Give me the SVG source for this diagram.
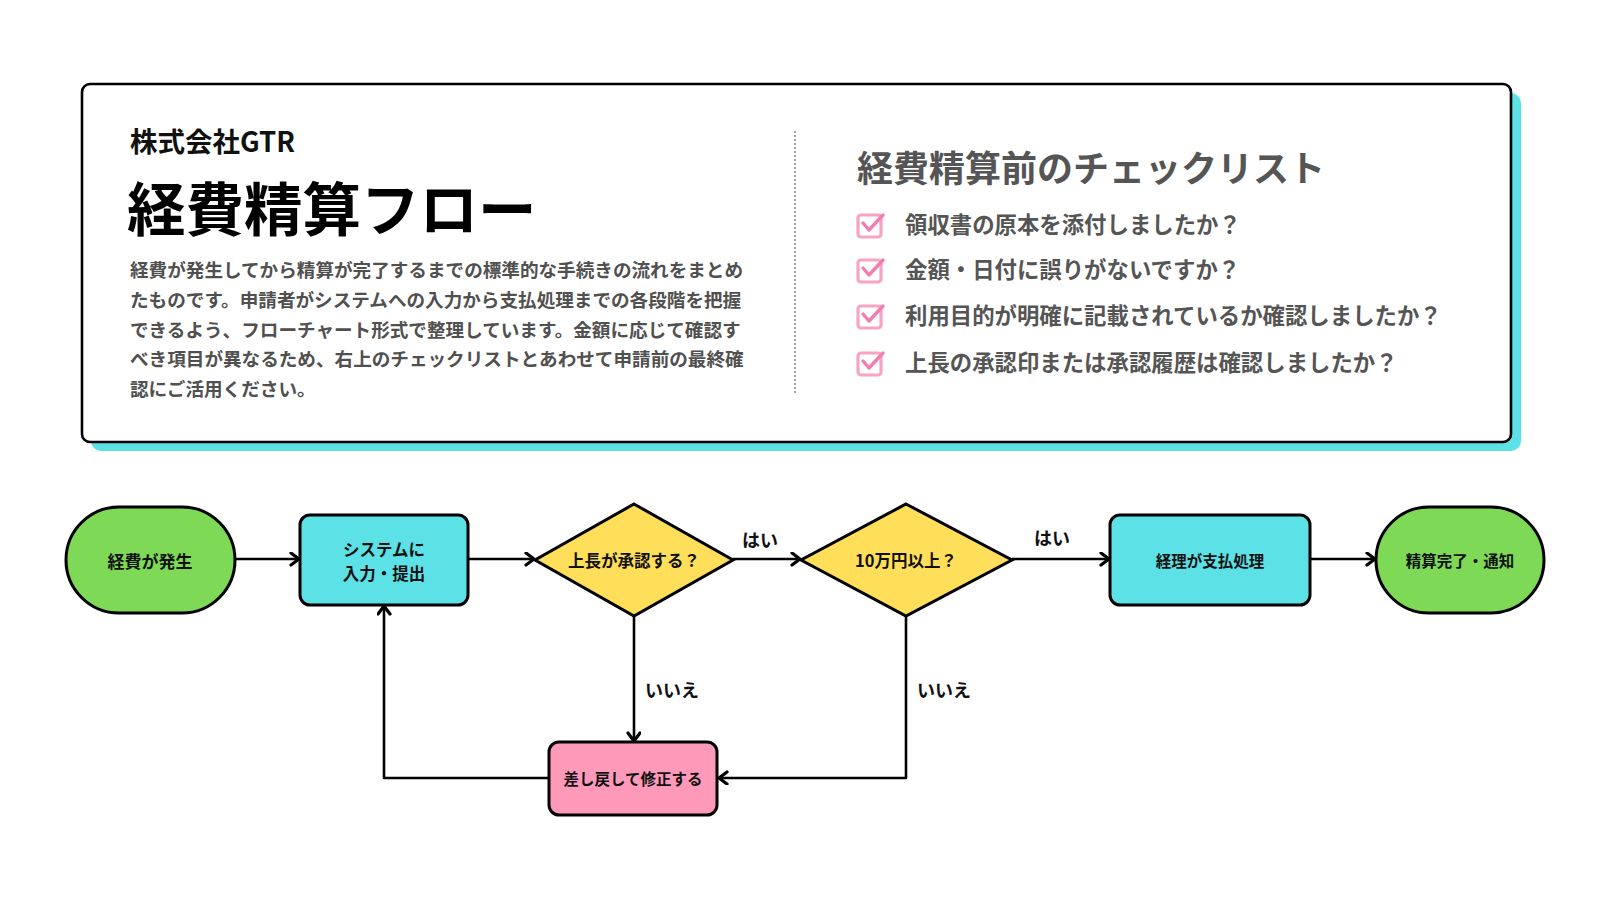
<svg xmlns="http://www.w3.org/2000/svg" width="1600" height="900" viewBox="0 0 1600 900">
<defs>
<style>
.jp{font-family:"Noto Sans CJK JP","Noto Sans",sans-serif;font-weight:700}
.node{stroke:#000;stroke-width:3}
.nt{font-family:"Noto Sans CJK JP","Noto Sans",sans-serif;font-weight:700;font-size:16.5px;fill:#111;text-anchor:middle;dominant-baseline:central}
.lbl{font-family:"Noto Sans CJK JP","Noto Sans",sans-serif;font-weight:700;font-size:18px;fill:#111;text-anchor:middle;dominant-baseline:central}
.conn{fill:none;stroke:#000;stroke-width:2.6;stroke-linejoin:round}
.para{font-size:18.6px;fill:#505050}
.item{font-size:22.4px;fill:#555}
.cb{fill:none;stroke:#F7A3C4;stroke-width:3.2}
.ck{fill:none;stroke:#F07FAF;stroke-width:3.4;stroke-linecap:round;stroke-linejoin:round}
</style>
<marker id="arr" markerUnits="userSpaceOnUse" markerWidth="14" markerHeight="16" refX="11" refY="7" orient="auto">
<path d="M3,1 L11,7 L3,13" fill="none" stroke="#000" stroke-width="3.2" stroke-linecap="round" stroke-linejoin="round"/>
</marker>
</defs>
<rect width="1600" height="900" fill="#fff"/>

<g id="header">
<rect x="91" y="93" width="1430" height="358" rx="10" fill="#5CE1E6"/>
<rect x="82" y="84" width="1429" height="358" rx="8" fill="#fff" stroke="#000" stroke-width="2.6"/>
<text class="jp" x="130" y="152" font-size="27.5" fill="#111">株式会社GTR</text>
<text class="jp" x="127" y="231" font-size="58.5" fill="#000">経費精算フロー</text>
<g class="jp para">
<text x="130" y="277">経費が発生してから精算が完了するまでの標準的な手続きの流れをまとめ</text>
<text x="130" y="307">たものです。申請者がシステムへの入力から支払処理までの各段階を把握</text>
<text x="130" y="337">できるよう、フローチャート形式で整理しています。金額に応じて確認す</text>
<text x="130" y="366">べき項目が異なるため、右上のチェックリストとあわせて申請前の最終確</text>
<text x="130" y="396">認にご活用ください。</text>
</g>
<line x1="795" y1="131" x2="795" y2="393" stroke="#666" stroke-width="1.2" stroke-dasharray="2,2"/>
<text class="jp" x="857" y="182" font-size="36" fill="#555">経費精算前のチェックリスト</text>
<g id="check1">
<rect class="cb" x="858" y="215" width="23" height="22" rx="3"/>
<polyline class="ck" points="863,223 869,230 883,215"/>
<text class="jp item" x="905" y="233">領収書の原本を添付しましたか？</text>
</g>
<g id="check2">
<rect class="cb" x="858" y="260" width="23" height="22" rx="3"/>
<polyline class="ck" points="863,268 869,275 883,260"/>
<text class="jp item" x="905" y="278">金額・日付に誤りがないですか？</text>
</g>
<g id="check3">
<rect class="cb" x="858" y="306" width="23" height="22" rx="3"/>
<polyline class="ck" points="863,314 869,321 883,306"/>
<text class="jp item" x="905" y="324">利用目的が明確に記載されているか確認しましたか？</text>
</g>
<g id="check4">
<rect class="cb" x="858" y="353" width="23" height="22" rx="3"/>
<polyline class="ck" points="863,361 869,368 883,353"/>
<text class="jp item" x="905" y="371">上長の承認印または承認履歴は確認しましたか？</text>
</g>
</g>

<g id="connectors">
<line class="conn" x1="235" y1="559" x2="299" y2="559" marker-end="url(#arr)"/>
<line class="conn" x1="468" y1="559" x2="534" y2="559" marker-end="url(#arr)"/>
<line class="conn" x1="733" y1="559" x2="800" y2="559" marker-end="url(#arr)"/>
<line class="conn" x1="1012" y1="559" x2="1109" y2="559" marker-end="url(#arr)"/>
<line class="conn" x1="1310" y1="559" x2="1375" y2="559" marker-end="url(#arr)"/>
<line class="conn" x1="634" y1="616" x2="634" y2="741" marker-end="url(#arr)"/>
<polyline class="conn" points="906,616 906,778 719,778" marker-end="url(#arr)"/>
<polyline class="conn" points="549,778 384,778 384,606" marker-end="url(#arr)"/>
<text class="lbl" x="760" y="539">はい</text>
<text class="lbl" x="1052" y="537">はい</text>
<text class="lbl" x="672" y="689">いいえ</text>
<text class="lbl" x="944" y="689">いいえ</text>
</g>

<g id="n-start">
<rect class="node" x="66" y="507" width="169" height="106" rx="53" fill="#7ED957"/>
<text class="nt" x="150" y="560" style="font-size:17px">経費が発生</text>
</g>
<g id="n-input">
<rect class="node" x="300" y="515" width="168" height="90" rx="10" fill="#5CE1E6"/>
<text class="nt" x="384" y="549">システムに</text>
<text class="nt" x="384" y="573">入力・提出</text>
</g>
<g id="n-approve">
<polygon class="node" points="634,504 733,560 634,616 535,560" fill="#FFDE59"/>
<text class="nt" x="634" y="560">上長が承認する？</text>
</g>
<g id="n-amount">
<polygon class="node" points="906,504 1012,560 906,616 801,560" fill="#FFDE59"/>
<text class="nt" x="906" y="560">10万円以上？</text>
</g>
<g id="n-pay">
<rect class="node" x="1110" y="515" width="200" height="90" rx="10" fill="#5CE1E6"/>
<text class="nt" x="1210" y="560" style="font-size:15.5px">経理が支払処理</text>
</g>
<g id="n-end">
<rect class="node" x="1376" y="507" width="168" height="106" rx="53" fill="#7ED957"/>
<text class="nt" x="1460" y="560" style="font-size:15.5px">精算完了・通知</text>
</g>
<g id="n-return">
<rect class="node" x="549" y="742" width="168" height="73" rx="10" fill="#FF99BA"/>
<text class="nt" x="633" y="778" style="font-size:15.5px">差し戻して修正する</text>
</g>
</svg>
